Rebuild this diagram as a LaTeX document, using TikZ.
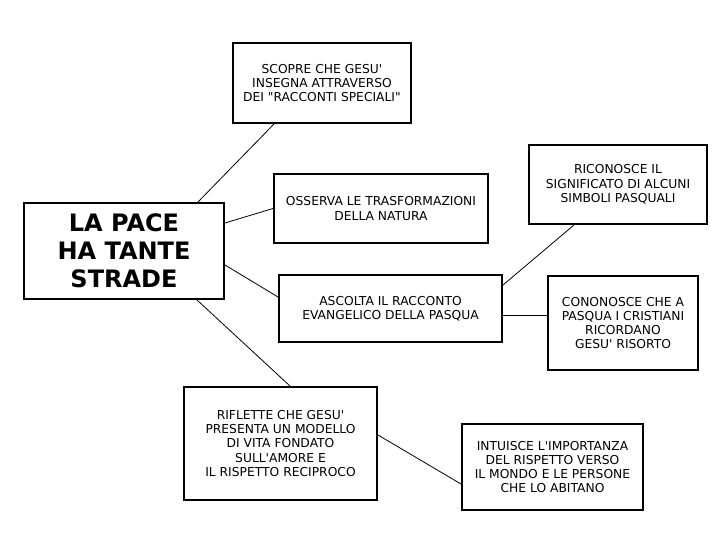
\documentclass[tikz,border=0pt]{standalone}
\usepackage{fontspec}
\newfontfamily\mapfont{DejaVu Sans}
\usepackage{tikz}
\usetikzlibrary{positioning}

\begin{document}
\begin{tikzpicture}[x=1pt, y=-1pt, font=\mapfont]
        \tikzset{
        block/.style = {draw, line width=2pt, rectangle, inner sep=2pt, align=center, font=\mapfont\fontsize{12.3}{14.3}\selectfont},
        title/.style = {block, font=\mapfont\bfseries\fontsize{24}{28}\selectfont},
        line/.style  = {line width=0.8pt}
        }
        \useasboundingbox (0,0) rectangle (720,540);

        % Centre and first branches
        \node[title, minimum width=200pt, minimum height=96pt] (pace) at (124,251) {LA PACE\\HA TANTE\\STRADE};
        \node[block, minimum width=178pt, minimum height=80pt] (scopre) at (322,83) {SCOPRE CHE GESU'\\INSEGNA ATTRAVERSO\\DEI "RACCONTI SPECIALI"};
        \node[block, minimum width=214pt, minimum height=69pt] (osserva) at (381,208.5) {OSSERVA LE TRASFORMAZIONI\\DELLA NATURA};
        \node[block, minimum width=223pt, minimum height=67pt] (ascolta) at (390.5,308.5) {ASCOLTA IL RACCONTO\\EVANGELICO DELLA PASQUA};
        \node[block, minimum width=193pt, minimum height=113pt] (riflette) at (280.5,443.5) {RIFLETTE CHE GESU'\\PRESENTA UN MODELLO\\DI VITA FONDATO\\SULL'AMORE E\\IL RISPETTO RECIPROCO};

        % Second branches
        \node[block, minimum width=178pt, minimum height=79pt] (riconosce) at (618,184.5) {RICONOSCE IL\\SIGNIFICATO DI ALCUNI\\SIMBOLI PASQUALI};
        \node[block, minimum width=150pt, minimum height=94pt] (cononosce) at (623,323) {CONONOSCE CHE A\\PASQUA I CRISTIANI\\RICORDANO\\GESU' RISORTO};
        \node[block, minimum width=181pt, minimum height=86pt] (intuisce) at (552.5,467) {INTUISCE L'IMPORTANZA\\DEL RISPETTO VERSO\\IL MONDO E LE PERSONE\\CHE LO ABITANO};

        % Connections
        \draw[line] ([xshift=74]pace.north) -- ([xshift=-48]scopre.south);
        \draw[line] ([yshift=28]pace.east) -- (osserva.west);
        \draw[line] ([yshift=-14]pace.east) -- ([yshift=11.5]ascolta.west);
        \draw[line] ([xshift=73]pace.south) -- ([xshift=9.5]riflette.north);
        \draw[line] ([yshift=23.5]ascolta.east) -- ([xshift=-44]riconosce.south);
        \draw[line] ([yshift=-6.5]ascolta.east) -- ([yshift=8]cononosce.west);
        \draw[line] ([yshift=8.5]riflette.east) -- ([yshift=-17]intuisce.west);
    \end{tikzpicture}
\end{document}
